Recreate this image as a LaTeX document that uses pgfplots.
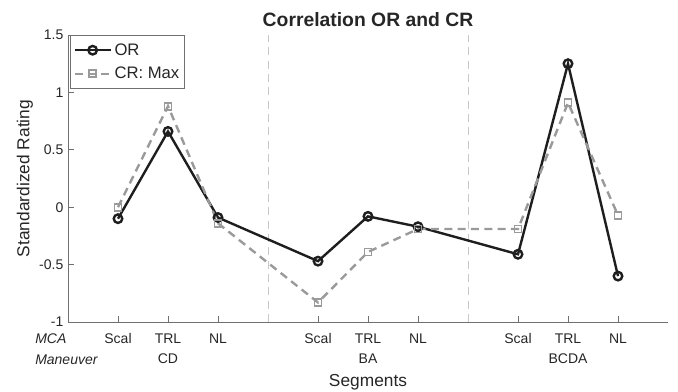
\documentclass[border=0pt]{standalone}
\usepackage{pgfplots}
\pgfplotsset{compat=1.18}
\usepackage{fontspec}
\setmainfont{Liberation Sans}
\usetikzlibrary{calc}
\definecolor{orcol}{HTML}{1E1E1E}
\definecolor{crcol}{HTML}{9A9A9A}
\definecolor{axcol}{HTML}{707070}
\definecolor{txtcol}{HTML}{262626}
\definecolor{sepcol}{HTML}{C8C8C8}
\begin{document}
\begin{tikzpicture}
\begin{axis}[name=ax, scale only axis, width=450pt, height=215.25pt,
  xmin=0, xmax=12, ymin=-1, ymax=1.5,
  axis x line*=bottom, axis y line*=left,
  axis line style={axcol, line width=0.6pt, -},
  xtick={1,2,3,5,6,7,9,10,11},
  xticklabels={Scal,{TRL\\CD},NL,Scal,{TRL\\BA},NL,Scal,{TRL\\BCDA},NL},
  ytick={-1,-0.5,0,0.5,1,1.5},
  yticklabels={-1,-0.5,0,0.5,1,1.5},
  tick align=inside, major tick length=4.5pt,
  tick style={axcol, line width=0.6pt},
  xticklabel style={font=\fontsize{10.5}{15.5}\selectfont, align=center, text=txtcol, anchor=north, inner sep=0pt, yshift=-8.4pt},
  yticklabel style={font=\fontsize{10.5}{12}\selectfont, text=txtcol},
  title={\bfseries Correlation OR and CR},
  every axis title/.style={at={(axis description cs:0.5,1)}, anchor=center, yshift=11.5pt, font=\fontsize{14.5}{16}\selectfont, text=txtcol},
  xlabel={Segments}, ylabel={Standardized Rating},
  every axis x label/.style={at={(axis description cs:0.5,0)}, anchor=center, yshift=-45pt, font=\fontsize{13}{15}\selectfont, text=txtcol},
  every axis y label/.style={at={(axis description cs:0,0.5)}, rotate=90, anchor=center, yshift=32.25pt, font=\fontsize{13}{15}\selectfont, text=txtcol},
  legend style={at={(axis description cs:0.004,1)}, anchor=north west, draw=axcol, line width=0.6pt, font=\fontsize{12.5}{14}\selectfont, text=txtcol, inner xsep=2pt, inner ysep=4pt, row sep=3.5pt, cells={anchor=west}},
  legend image code/.code={\draw[mark repeat=2,mark phase=2,#1] plot coordinates {(0pt,0pt) (13.5pt,0pt) (27pt,0pt)};},
  clip=false,
]
\addplot[sepcol, line width=0.75pt, dash pattern=on 6pt off 4pt, forget plot] coordinates {(4,-1) (4,1.5)};
\addplot[sepcol, line width=0.75pt, dash pattern=on 6pt off 4pt, forget plot] coordinates {(8,-1) (8,1.5)};
\addplot[orcol, line width=1.8pt, mark=o, mark size=3.2pt] coordinates {
 (1,-0.10) (2,0.66) (3,-0.09) (5,-0.47) (6,-0.08) (7,-0.17) (9,-0.41) (10,1.25) (11,-0.60)};
\addlegendentry{OR}
\addplot[crcol, line width=1.8pt, dash pattern=on 6pt off 4pt, mark=square, mark size=2.6pt, mark options={solid, line width=1.4pt}] coordinates {
 (1,0.00) (2,0.88) (3,-0.14) (5,-0.83) (6,-0.39) (7,-0.19) (9,-0.19) (10,0.91) (11,-0.07)};
\addlegendentry{CR: Max}
\node[anchor=base west, inner sep=0pt, font=\itshape\fontsize{10.5}{12}\selectfont, text=txtcol] at ($(rel axis cs:0,0)+(-24.75pt,-16pt)$) {MCA};
\node[anchor=base west, inner sep=0pt, font=\itshape\fontsize{10.5}{12}\selectfont, text=txtcol] at ($(rel axis cs:0,0)+(-24.75pt,-31.5pt)$) {Maneuver};
\end{axis}
\pgfresetboundingbox
\path ($(ax.south west)+(-51pt,-52.5pt)$) rectangle ($(ax.north east)+(7.5pt,26.25pt)$);
\end{tikzpicture}
\end{document}
